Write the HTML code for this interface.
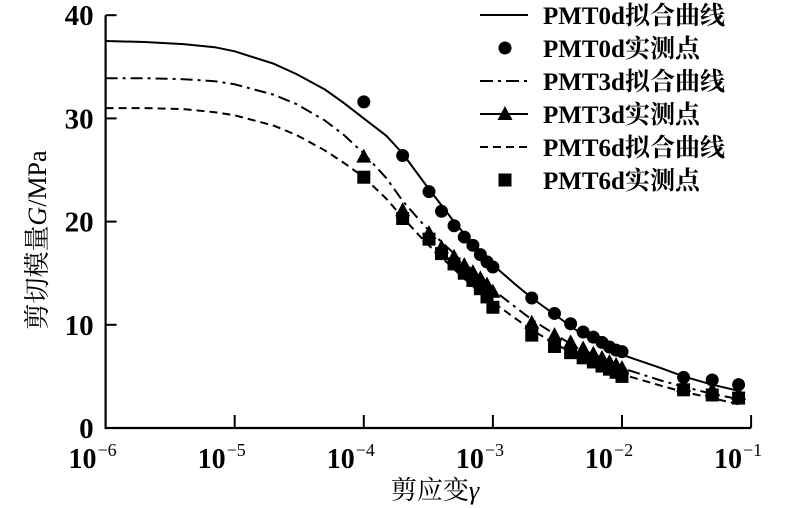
<!DOCTYPE html>
<html><head><meta charset="utf-8">
<style>
html,body{margin:0;padding:0;background:#fff;}
svg{display:block;}
text{font-family:"Liberation Serif","Noto Serif CJK SC",serif;fill:#000;}
</style></head>
<body>
<svg id="chart" width="791" height="508" viewBox="0 0 791 508" xmlns="http://www.w3.org/2000/svg"></svg>
<script>
// ---- data ----
const xTicks = [-6, -5, -4, -3, -2, -1];
const yTicks = [0, 10, 20, 30, 40];
const strain0 = [1e-4,2e-4,3.2e-4,4e-4,5e-4,6e-4,7e-4,8e-4,9e-4,1e-3,2e-3,3e-3,4e-3,5e-3,6e-3,7e-3,8e-3,9e-3,1e-2,3e-2,5e-2,8e-2];
const g0pts = [31.6,26.4,22.9,21.0,19.6,18.5,17.7,16.8,16.1,15.6,12.6,11.1,10.1,9.3,8.8,8.3,7.85,7.55,7.4,4.9,4.65,4.2];
const g3pts = [26.3,21.1,18.9,17.5,16.6,15.8,15.1,14.5,13.9,13.2,10.2,9.0,8.3,7.7,7.2,6.8,6.4,6.1,5.8,4.1,3.7,3.3];
const g6pts = [24.3,20.3,18.3,16.9,15.9,15.0,14.3,13.5,12.7,11.7,9.0,7.9,7.3,6.8,6.4,6.0,5.7,5.4,5.0,3.7,3.2,2.9];
const curveStrain = [1e-6,2e-6,4e-6,7e-6,1e-5,2e-5,3e-5,5e-5,7e-5,1e-4,1.5e-4,2e-4,3e-4,5e-4,7e-4,1e-3,1.5e-3,2e-3,3e-3,5e-3,7e-3,1e-2,2e-2,3e-2,5e-2,8e-2];
const fit0 = [37.5,37.4,37.2,36.9,36.5,35.3,34.3,32.8,31.5,30.0,28.3,26.6,23.6,20.0,17.8,15.8,13.9,12.6,11.0,9.0,8.0,7.1,5.8,5.0,4.2,3.6];
const fit3 = [33.9,33.9,33.8,33.6,33.3,32.3,31.4,29.8,28.4,26.6,24.2,22.0,19.5,16.9,15.0,13.4,11.7,10.5,9.1,7.4,6.5,5.8,4.6,4.0,3.3,2.8];
const fit6 = [31.0,31.0,30.9,30.6,30.3,29.3,28.4,26.9,25.7,24.3,22.2,20.4,18.0,15.4,13.7,12.2,10.6,9.5,8.2,6.7,5.9,5.2,4.1,3.5,2.9,2.3];

// ---- axes ----
const X0=105.6, DEC=129.1, Y0=428, YU=10.32;
const xs = v => X0 + (Math.log10(v)+6)*DEC;
const ys = v => Y0 - v*YU;
const svg = document.getElementById('chart');
const NS = 'http://www.w3.org/2000/svg';
function mk(tag, attrs, parent){const e=document.createElementNS(NS,tag);for(const k in attrs)e.setAttribute(k,attrs[k]);(parent||svg).appendChild(e);return e;}

const axes = mk('g',{});


const xEnd = xs(1e-1);
mk('path',{d:`M${X0},${ys(40)} L${X0},${Y0} L${xEnd},${Y0}`,fill:'none',stroke:'#000','stroke-width':2.2},axes);
xTicks.forEach(t=>{
  const x = X0+(t+6)*DEC;
  if(t>-6) mk('line',{x1:x,y1:Y0,x2:x,y2:Y0-13,stroke:'#000','stroke-width':2},axes);
  const tx = mk('text',{x:x-13,y:Y0+40,'font-size':28,'font-weight':'bold','text-anchor':'middle'},axes);
  
  
  tx.textContent='10';
  const sup = mk('tspan',{'font-size':18,dy:-12,dx:1,'font-weight':'normal'},tx);
  sup.textContent='\u2212'+Math.abs(t);
});
yTicks.forEach(t=>{
  const y = ys(t);
  if(t>0) mk('line',{x1:X0,y1:y,x2:X0+11,y2:y,stroke:'#000','stroke-width':2},axes);
  const tx = mk('text',{x:X0-12,y:y+10,'font-size':29,'font-weight':'bold','text-anchor':'end'},axes);
  
  
  tx.textContent=t;
});
const xt = mk('text',{x:435,y:499,'font-size':26,'text-anchor':'middle'});


xt.innerHTML='剪应变<tspan font-style="italic">γ</tspan>';
const yt = mk('text',{x:0,y:0,'font-size':26,'text-anchor':'middle',transform:'translate(46,240) rotate(-90)'});


yt.innerHTML='剪切模量<tspan font-style="italic">G</tspan>/MPa';

// ---- curves ----
function curve(vals, dash, name){
  const d = curveStrain.map((s,i)=>(i?'L':'M')+xs(s).toFixed(1)+','+ys(vals[i]).toFixed(1)).join(' ');
  const p = mk('path',{d:d,fill:'none',stroke:'#000','stroke-width':2,'stroke-dasharray':dash,'stroke-linejoin':'round'});
  
  
}
curve(fit0,'none','fit-curve-0d');
curve(fit3,'12,5,3,5','fit-curve-3d');
curve(fit6,'8,5','fit-curve-6d');

// ---- points ----
function pts(vals, shape, name){
  const g = mk('g',{});
  
  
  strain0.forEach((s,i)=>{
    const x=xs(s), y=ys(vals[i]);
    let e;
    if(shape==='c') e=mk('circle',{cx:x,cy:y,r:6.5,fill:'#000'},g);
    else if(shape==='t') e=mk('polygon',{points:`${x},${y-8} ${x-7.5},${y+6} ${x+7.5},${y+6}`,fill:'#000'},g);
    else e=mk('rect',{x:x-6.5,y:y-6.5,width:13,height:13,fill:'#000'},g);
    
    
  });
}
pts(g0pts,'c','points-0d');
pts(g3pts,'t','points-3d');
pts(g6pts,'s','points-6d');

// ---- legend ----
const leg = mk('g',{});


const labels=['PMT0d拟合曲线','PMT0d实测点','PMT3d拟合曲线','PMT3d实测点','PMT6d拟合曲线','PMT6d实测点'];
const rowsY=[15,48,81,114,147,180];
labels.forEach((l,i)=>{
  const y=rowsY[i];
  const ent = mk('g',{},leg);
  
  
  if(i===0) mk('line',{x1:480,y1:y,x2:528,y2:y,stroke:'#000','stroke-width':2},ent);
  if(i===1) mk('circle',{cx:505,cy:y,r:6.5,fill:'#000'},ent);
  if(i===2) mk('line',{x1:480,y1:y,x2:528,y2:y,stroke:'#000','stroke-width':2,'stroke-dasharray':'13,5,3,5'},ent);
  if(i===3){ mk('line',{x1:480,y1:y,x2:528,y2:y,stroke:'#000','stroke-width':2},ent);
    mk('polygon',{points:`505,${y-8} 497.5,${y+6} 512.5,${y+6}`,fill:'#000'},ent);}
  if(i===4) mk('line',{x1:480,y1:y,x2:530,y2:y,stroke:'#000','stroke-width':2,'stroke-dasharray':'8,5'},ent);
  if(i===5) mk('rect',{x:498.5,y:y-6.5,width:13,height:13,fill:'#000'},ent);
  const t = mk('text',{x:543,y:y+9,'font-size':25,'font-weight':'bold'},ent);
  t.textContent=l;
});
</script>
</body></html>
